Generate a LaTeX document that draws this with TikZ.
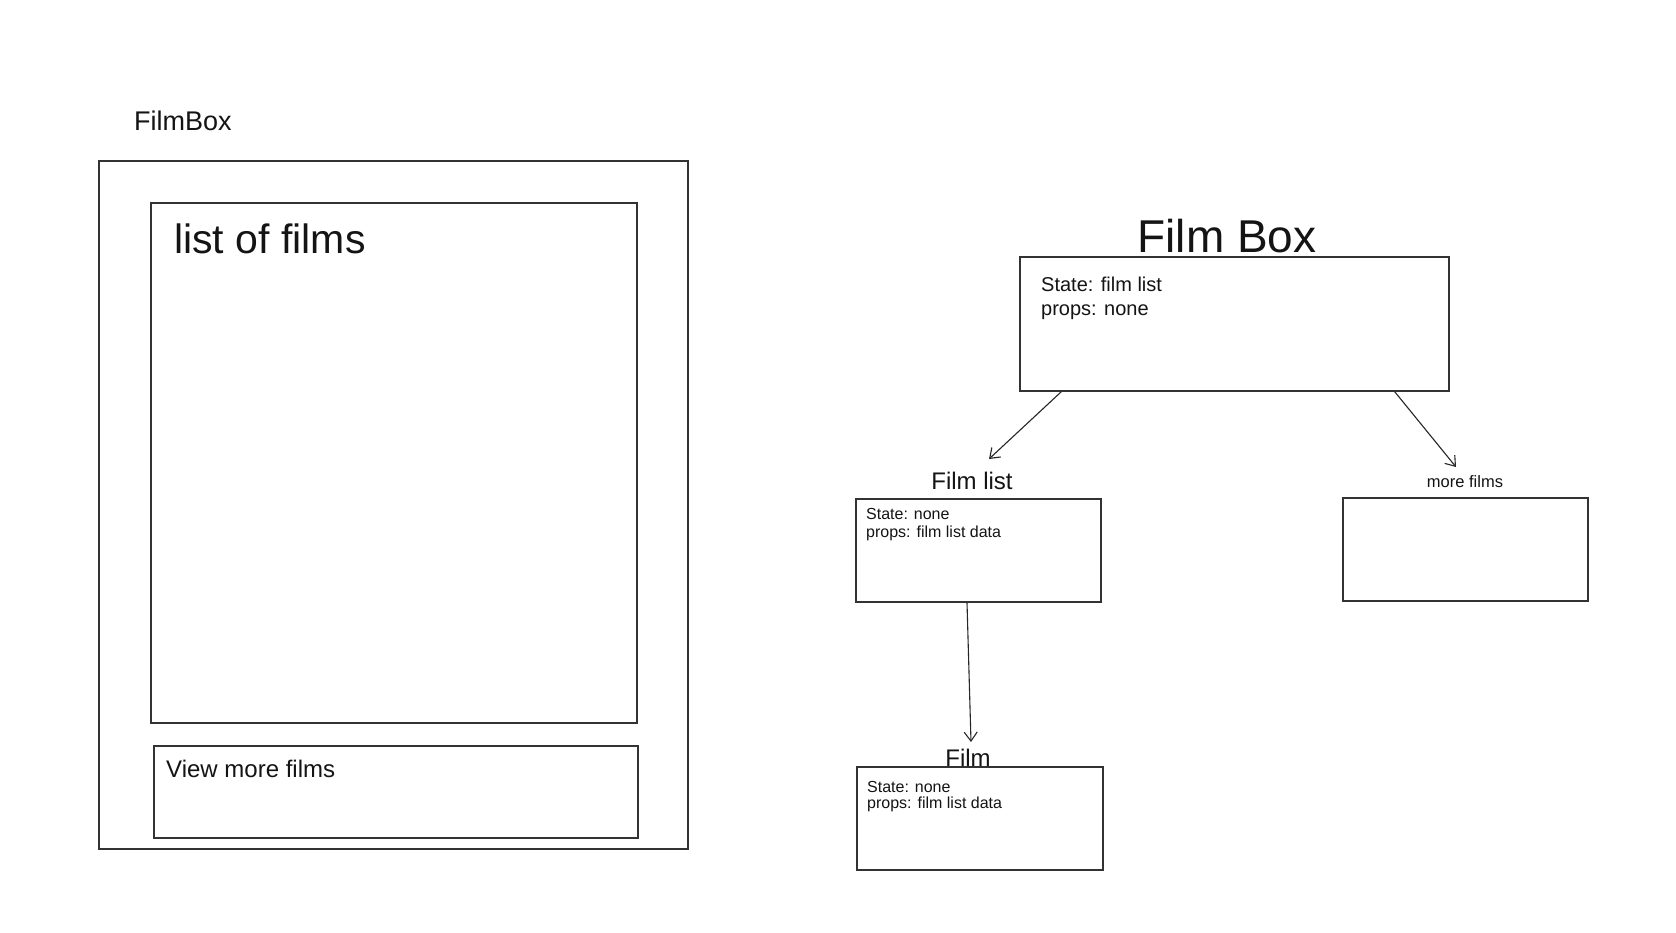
\documentclass[tikz,border=0pt]{standalone}
\usepackage{fontspec}
\setmainfont{Liberation Sans}
\usetikzlibrary{arrows.meta,calc}
\begin{document}
\begin{tikzpicture}[x=1pt,y=-1pt,
  box/.style={draw=black!80, line width=1.3pt, rectangle, inner sep=0pt},
  lbl/.style={inner sep=0pt, anchor=base west, text=black!92},
  clbl/.style={inner sep=0pt, anchor=base, text=black!92},
  conn/.style={draw=black!85, line width=1.1pt, -{Straight Barb[length=9pt,width=13pt,line width=1.1pt]}},
]
\useasboundingbox (0,0) rectangle (1676,932);
\fill[white] (0,0) rectangle (1676,932);
% left mockup
\node[box, minimum width=589pt, minimum height=688pt] (outer) at (393.5,505) {};
\node[box, minimum width=486pt, minimum height=520pt] (list) at (394,463) {};
\node[box, minimum width=484pt, minimum height=92pt] (view) at (396,792) {};
\node[lbl, font=\fontsize{27}{32}\selectfont] (tfb) at (134,130) {FilmBox};
\node[lbl, font=\fontsize{41}{48}\selectfont] (tlist) at (174,253) {list of films};
\node[lbl, font=\fontsize{24}{28}\selectfont] (tview) at (166,777) {View more films};
% component tree
\node[box, minimum width=429pt, minimum height=134pt] (main) at (1234.5,324) {};
\node[box, minimum width=245pt, minimum height=103pt] (fl) at (978.5,550.5) {};
\node[box, minimum width=245pt, minimum height=103pt] (mf) at (1465.5,549.5) {};
\node[box, minimum width=246pt, minimum height=103pt] (film) at (980,818.5) {};
\node[clbl, font=\fontsize{46}{54}\selectfont] (tmain) at (1227,252) {Film Box};
\node[lbl, font=\fontsize{20}{24}\selectfont] (smain) at (1041,291) {State: film list};
\node[lbl, font=\fontsize{20}{24}\selectfont] (pmain) at (1041,315) {props: none};
\node[clbl, font=\fontsize{24}{28}\selectfont] (tfl) at (972,489) {Film list};
\node[lbl, font=\fontsize{16}{19}\selectfont] (sfl) at (866,519) {State: none};
\node[lbl, font=\fontsize{16}{19}\selectfont] (pfl) at (866,537) {props: film list data};
\node[clbl, font=\fontsize{16.5}{19}\selectfont] (tmf) at (1465,487) {more films};
\node[clbl, font=\fontsize{24}{28}\selectfont] (tfilm) at (968,766) {Film};
\node[lbl, font=\fontsize{16}{19}\selectfont] (sfilm) at (867,792) {State: none};
\node[lbl, font=\fontsize{16}{19}\selectfont] (pfilm) at (867,808) {props: film list data};
% connectors
\coordinate (a1s) at ($(main.south west)+(42,0)$);
\coordinate (a1e) at (989,459);
\coordinate (a2s) at ($(main.south east)+(-55,0)$);
\coordinate (a2e) at (1456,467);
\coordinate (a3s) at ($(fl.south)+(-11.5,0)$);
\coordinate (a3e) at (971,742);
\draw[conn] (a1s) -- (a1e);
\draw[conn] (a2s) -- (a2e);
\draw[conn] (a3s) -- (a3e);
\end{tikzpicture}
\end{document}
